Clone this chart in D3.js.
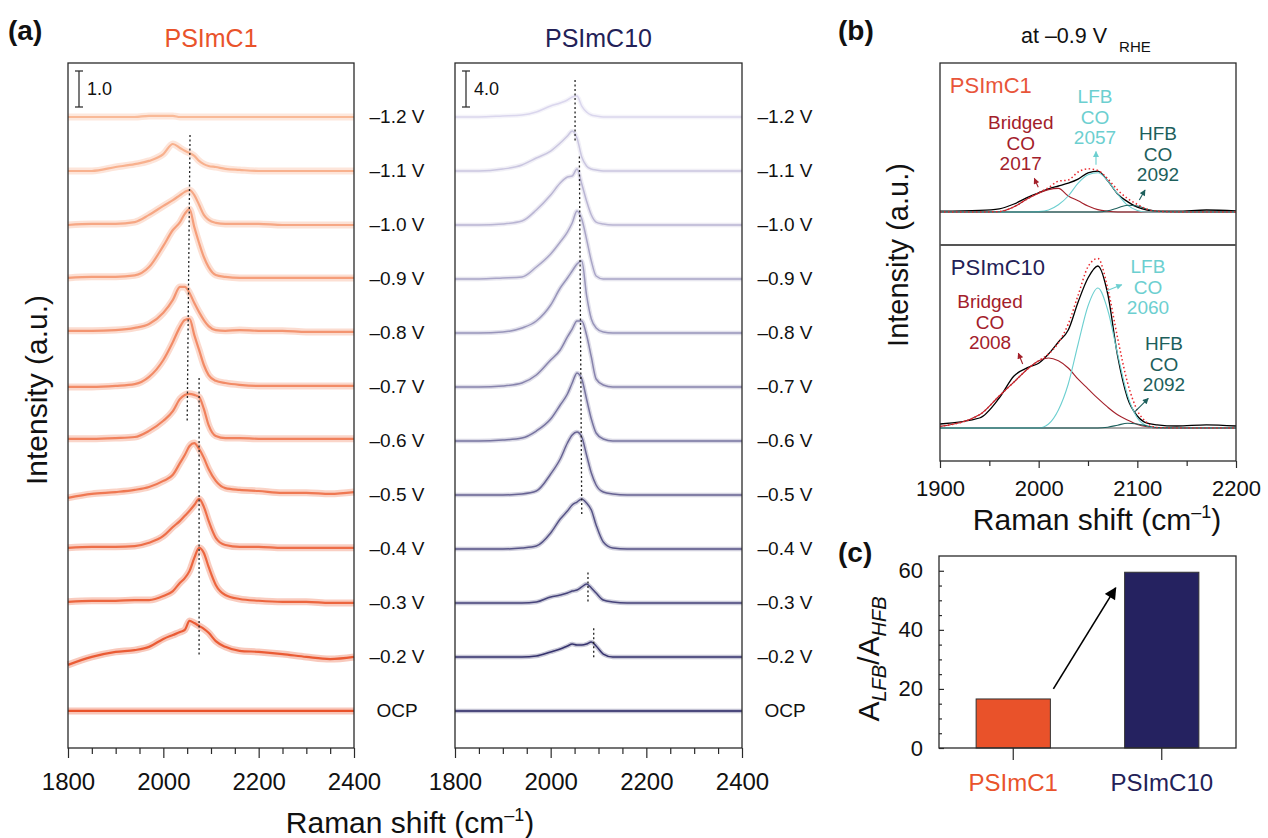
<!DOCTYPE html>
<html lang="en">
<head>
  <meta charset="UTF-8">
  <title>In situ Raman spectra</title>
  <style>
    body { margin: 0; background: #fff; }
    svg { font-family: 'Liberation Sans', Arial, Helvetica, sans-serif; }
    .frame { fill: none; stroke: #2a2a2a; stroke-width: 1.3; }
    .tick line { stroke: #2a2a2a; stroke-width: 1.2; }
  </style>
</head>
<body>
  <svg width="1268" height="838"></svg>
  <script src="https://cdn.jsdelivr.net/npm/d3@7/dist/d3.min.js"></script>
  <script>
    // ---------- data ----------
    var potentials = ['–1.2 V', '–1.1 V', '–1.0 V', '–0.9 V', '–0.8 V', '–0.7 V',
                      '–0.6 V', '–0.5 V', '–0.4 V', '–0.3 V', '–0.2 V', 'OCP']

    // Raman shift grid (cm-1) for the stacked spectra in (a)
    var waveA = [1800, 1850, 1900, 1940, 1970, 2000, 2020, 2035, 2045, 2055, 2065,
                 2075, 2085, 2095, 2110, 2130, 2160, 2200, 2250, 2300, 2350, 2400]

    // PSImC1, intensity above each trace's baseline (scale bar = 1.0)
    var c1Spectra = [
      [0, 0, 0, 0, 0.03, 0.03, 0.03, 0, 0, 0, 0, 0, 0, 0, 0, 0, 0, 0, 0, 0, 0, 0],
      [0, 0, 0.11, 0.19, 0.28, 0.47, 0.75, 0.64, 0.56, 0.5, 0.42, 0.28, 0.19, 0.14, 0.11, 0.06, 0.03, 0, 0, 0, 0, 0],
      [0, 0.03, 0.03, 0.08, 0.28, 0.53, 0.69, 0.83, 0.92, 0.97, 0.83, 0.56, 0.28, 0.14, 0.06, 0.03, 0.03, 0.03, 0, 0, 0, 0],
      [0.03, 0.06, 0.06, 0.1, 0.33, 0.92, 1.36, 1.58, 1.81, 1.94, 1.44, 1.0, 0.61, 0.33, 0.11, 0.06, 0.03, 0.03, 0.03, 0.03, 0.03, 0.03],
      [0.06, 0.06, 0.08, 0.14, 0.25, 0.56, 0.92, 1.28, 1.28, 1.11, 0.83, 0.58, 0.36, 0.19, 0.08, 0.06, 0.08, 0.06, 0.06, 0.03, 0.03, 0.03],
      [0, 0, 0.03, 0.08, 0.28, 0.75, 1.25, 1.67, 1.86, 1.89, 1.44, 1.03, 0.61, 0.33, 0.17, 0.11, 0.06, 0.03, 0.03, 0.03, 0.03, 0.03],
      [0.06, 0.06, 0.08, 0.11, 0.28, 0.56, 0.83, 1.17, 1.28, 1.31, 1.28, 1.22, 0.89, 0.44, 0.14, 0.08, 0.08, 0.06, 0.06, 0.06, 0.06, 0.06],
      [-0.08, 0.03, 0.08, 0.14, 0.22, 0.39, 0.56, 0.89, 1.11, 1.36, 1.44, 1.28, 1.03, 0.72, 0.39, 0.19, 0.14, 0.11, 0.06, 0.06, 0.03, 0.08],
      [0.03, 0.06, 0.06, 0.08, 0.17, 0.36, 0.61, 0.78, 0.92, 1.06, 1.22, 1.39, 1.17, 0.78, 0.31, 0.11, 0.06, 0.06, 0.03, 0.03, 0.03, 0.03],
      [0.03, 0.06, 0.06, 0.08, 0.08, 0.19, 0.33, 0.56, 0.69, 0.89, 1.25, 1.53, 1.39, 1.0, 0.5, 0.22, 0.11, 0.06, 0.03, 0.03, 0, 0],
      [-0.22, 0, 0.14, 0.19, 0.28, 0.5, 0.61, 0.69, 0.75, 1.0, 0.94, 0.86, 0.78, 0.67, 0.44, 0.28, 0.17, 0.14, 0.08, 0, -0.06, 0],
      [0, 0, 0, 0, 0, 0, 0, 0, 0, 0, 0, 0, 0, 0, 0, 0, 0, 0, 0, 0, 0, 0]
    ]

    // PSImC10, intensity above each trace's baseline (scale bar = 4.0)
    var c10Spectra = [
      [0, 0, 0.11, 0.22, 0.56, 1.22, 1.56, 1.89, 2.22, 2.33, 1.22, 0.56, 0.22, 0.11, 0, 0, 0, 0, 0, 0, 0, 0],
      [0, 0, 0.22, 0.67, 1.44, 2.22, 3.11, 3.89, 4.44, 3.67, 1.56, 0.56, 0.22, 0.11, 0, 0, 0, 0, 0, 0, 0, 0],
      [0, 0, 0.11, 0.44, 1.67, 3.33, 4.67, 5.33, 5.44, 6.22, 4.56, 2.67, 1.11, 0.33, 0.11, 0, 0, 0, 0, 0, 0, 0],
      [0, 0, 0.11, 0.22, 1.33, 2.78, 4.11, 5.22, 6.22, 7.56, 6.67, 4.44, 2.0, 0.33, 0, 0, 0, 0, 0, 0, 0, 0],
      [0, 0, 0.11, 0.56, 1.33, 3.11, 5.0, 6.11, 6.89, 7.67, 8.0, 4.22, 1.56, 0.56, 0.11, 0, 0, 0, 0, 0, 0, 0],
      [0, 0, 0.11, 0.44, 1.33, 3.0, 4.11, 5.56, 6.44, 7.33, 7.33, 5.78, 3.33, 0.89, 0.22, 0, 0, 0, 0, 0, 0, 0],
      [0, 0, 0.11, 0.33, 1.11, 2.44, 4.0, 5.22, 6.44, 7.56, 6.89, 4.67, 2.44, 0.89, 0.22, 0, 0, 0, 0, 0, 0, 0],
      [0, 0, 0, 0.11, 0.44, 2.33, 4.0, 5.78, 6.67, 7.0, 6.44, 4.44, 2.44, 1.11, 0.33, 0.11, 0, 0, 0, 0, 0, 0],
      [0, 0, 0, 0.11, 0.33, 1.78, 3.33, 4.22, 4.89, 5.22, 5.56, 5.11, 4.33, 2.67, 0.78, 0.11, 0, 0, 0, 0, 0, 0],
      [0, 0, 0, 0, 0.11, 0.67, 0.89, 1.11, 1.33, 1.44, 1.78, 2.11, 1.67, 1.11, 0.33, 0.11, 0, 0, 0, 0, 0, 0],
      [0, 0, 0, 0, 0.11, 0.56, 0.89, 1.22, 1.44, 1.33, 1.33, 1.44, 1.67, 1.22, 0.33, 0, 0, 0, 0, 0, 0, 0],
      [0, 0, 0, 0, 0, 0, 0, 0, 0, 0, 0, 0, 0, 0, 0, 0, 0, 0, 0, 0, 0, 0]
    ]

    // dotted peak guides: [start, end] in (cm-1, stacked intensity)
    var c1Guides = [
      { wn: [2056, 2050], y: [16.0, 8.0] },
      { wn: [2075, 2075], y: [9.25, 1.5] }
    ]
    var c10Guides = [
      { wn: [2051, 2051], y: [70.1, 63.4] },
      { wn: [2060, 2065], y: [61.6, 21.8] },
      { wn: [2078, 2078], y: [15.4, 12.1] },
      { wn: [2090, 2090], y: [9.2, 5.9] }
    ]

    // (b) fitted spectra at -0.9 V
    var waveB = [1900, 1940, 1960, 1975, 1990, 2000, 2010, 2020, 2030, 2040, 2050,
                 2060, 2070, 2080, 2090, 2100, 2110, 2120, 2140, 2170, 2200]
    var c1Measured = [0.02, 0.04, 0.08, 0.2, 0.38, 0.48, 0.58, 0.65, 0.72, 0.82, 0.98, 1.02, 0.78, 0.45, 0.26, 0.12, 0.05, 0.02, 0.02, 0.05, 0.03]
    var c1Bridged  = [0, 0, 0.01, 0.13, 0.35, 0.47, 0.56, 0.59, 0.4, 0.28, 0.15, 0.06, 0.02, 0, 0, 0, 0, 0, 0, 0, 0]
    var c1LFB      = [0, 0, 0, 0, 0, 0.01, 0.05, 0.18, 0.4, 0.72, 0.93, 0.98, 0.78, 0.45, 0.17, 0.04, 0, 0, 0, 0, 0]
    var c1HFB      = [0, 0, 0, 0, 0, 0, 0, 0, 0, 0, 0, 0, 0.03, 0.1, 0.17, 0.15, 0.07, 0.02, 0, 0, 0]
    var c10Measured = [0.1, 0.25, 0.75, 1.3, 1.52, 1.62, 1.85, 2.15, 2.45, 3.15, 3.75, 4.05, 3.35, 1.8, 0.75, 0.3, 0.12, 0.08, 0.05, 0.08, 0.05]
    var c10Bridged  = [0.04, 0.33, 0.8, 1.15, 1.5, 1.68, 1.75, 1.68, 1.5, 1.22, 0.98, 0.74, 0.52, 0.33, 0.2, 0.09, 0.03, 0, 0, 0, 0]
    var c10LFB      = [0, 0, 0, 0, 0, 0, 0.1, 0.45, 1.1, 2.1, 3.05, 3.5, 2.95, 1.85, 0.82, 0.25, 0.05, 0, 0, 0, 0]
    var c10HFB      = [0, 0, 0, 0, 0, 0, 0, 0, 0, 0, 0, 0, 0.02, 0.07, 0.12, 0.1, 0.05, 0.01, 0, 0, 0]

    // (c) area ratio
    var ratioSamples = ['PSImC1', 'PSImC10']
    var ratioValues = [16.6, 59.5]

    // ---------- drawing ----------
    var svg = d3.select('svg')
    var c1Color = '#e9522a'
    var c10Color = '#252260'
    var bridgedColor = '#a3202a'
    var lfbColor = '#6ccfd0'
    var hfbColor = '#1d5f5c'

    var defs = svg.append('defs')
    function arrowMarker(id, color, w, h) {
      defs.append('marker')
        .attr('id', id)
        .attr('viewBox', '0 0 10 10')
        .attr('refX', 9).attr('refY', 5)
        .attr('markerWidth', w).attr('markerHeight', h)
        .attr('markerUnits', 'userSpaceOnUse')
        .attr('orient', 'auto')
        .append('path')
        .attr('d', 'M0,0 L10,5 L0,10 z')
        .attr('fill', color)
    }
    arrowMarker('arrBig', '#000', 15, 12)
    arrowMarker('arrRed', bridgedColor, 7, 6)
    arrowMarker('arrCyan', lfbColor, 7, 6)
    arrowMarker('arrTeal', hfbColor, 7, 6)

    function styleAxis(g, size) {
      g.attr('font-family', null)
      g.select('.domain').remove()
      g.selectAll('text').attr('font-size', size).attr('fill', '#111')
    }

    function label(x, y, txt, size, opts) {
      opts = opts || {}
      return svg.append('text')
        .attr('x', x).attr('y', y)
        .attr('font-size', size)
        .attr('font-weight', opts.bold ? 'bold' : null)
        .attr('text-anchor', opts.anchor || 'start')
        .attr('fill', opts.color || '#111')
        .text(txt)
    }

    // ---- (a) stacked spectra ----
    var panelsA = [
      { name: 'PSImC1', left: 68, right: 354, spectra: c1Spectra, guides: c1Guides, step: 1.5,
        yMin: -1.03, yMax: 18, bar: 1.0, from: '#f9ba98', to: c1Color, title: '#e9532b',
        labelX: 397, core: 2.2, halo: 7, haloOpacity: 0.33 },
      { name: 'PSImC10', left: 455, right: 742, spectra: c10Spectra, guides: c10Guides, step: 6,
        yMin: -4.11, yMax: 72, bar: 4.0, from: '#dad6ed', to: c10Color, title: '#232157',
        labelX: 785, core: 1.5, halo: 4.5, haloOpacity: 0.28 }
    ]

    panelsA.forEach(function(p) {
      var x = d3.scaleLinear().domain([1800, 2400]).range([p.left, p.right])
      var y = d3.scaleLinear().domain([p.yMin, p.yMax]).range([748, 63])
      var color = d3.interpolateRgb(p.from, p.to)
      var g = svg.append('g')
      var n = potentials.length

      p.spectra.forEach(function(vals, i) {
        var off = (n - 1 - i) * p.step
        var line = d3.line()
          .x(function(d, k) { return x(waveA[k]) })
          .y(function(d) { return y(d + off) })
          .curve(d3.curveMonotoneX)
        var c = color(i / (n - 1))
        g.append('path').attr('d', line(vals))
          .attr('fill', 'none').attr('stroke', c)
          .attr('stroke-width', p.halo).attr('stroke-opacity', p.haloOpacity)
        g.append('path').attr('d', line(vals))
          .attr('fill', 'none').attr('stroke', c)
          .attr('stroke-width', p.core)

        label(p.labelX, y(off) + 6, potentials[i], 19, { anchor: 'middle' })
      })

      p.guides.forEach(function(d) {
        g.append('line')
          .attr('x1', x(d.wn[0])).attr('y1', y(d.y[0]))
          .attr('x2', x(d.wn[1])).attr('y2', y(d.y[1]))
          .attr('stroke', '#222').attr('stroke-width', 1.3)
          .attr('stroke-dasharray', '2,2.5')
      })

      // scale bar
      var bx = p.left + 11
      var by0 = y(p.yMax) + 8
      var by1 = by0 + (y(0) - y(p.bar))
      var sb = g.append('g').attr('stroke', '#333').attr('stroke-width', 1.3)
      sb.append('line').attr('x1', bx).attr('x2', bx).attr('y1', by0).attr('y2', by1)
      sb.append('line').attr('x1', bx - 4).attr('x2', bx + 4).attr('y1', by0).attr('y2', by0)
      sb.append('line').attr('x1', bx - 4).attr('x2', bx + 4).attr('y1', by1).attr('y2', by1)
      label(bx + 8, (by0 + by1) / 2 + 6, p.bar.toFixed(1), 18)

      svg.append('rect').attr('class', 'frame')
        .attr('x', p.left).attr('y', 63)
        .attr('width', p.right - p.left).attr('height', 685)

      var ax = svg.append('g').attr('transform', 'translate(0,748)')
        .call(d3.axisBottom(x).tickValues([1800, 2000, 2200, 2400]).tickSize(10).tickPadding(15).tickFormat(d3.format('d')))
      styleAxis(ax, 24)
      var axm = svg.append('g').attr('transform', 'translate(0,748)')
        .call(d3.axisBottom(x).tickValues(d3.range(1850, 2400, 50).filter(function(v) { return v % 200 !== 0 })).tickSize(6).tickFormat(''))
      styleAxis(axm, 24)

      label((p.left + p.right) / 2, 47, p.name, 25, { anchor: 'middle', color: p.title })
    })

    label(8, 40, '(a)', 28, { bold: true })
    svg.append('text')
      .attr('transform', 'translate(47,390) rotate(-90)')
      .attr('text-anchor', 'middle').attr('font-size', 30).attr('fill', '#111')
      .text('Intensity (a.u.)')

    function ramanLabel(x, y) {
      var t = svg.append('text').attr('x', x).attr('y', y)
        .attr('text-anchor', 'middle').attr('font-size', 30).attr('fill', '#111')
      t.append('tspan').text('Raman shift (cm')
      t.append('tspan').attr('font-size', 18).attr('dy', -12).text('–1')
      t.append('tspan').attr('dy', 12).text(')')
    }
    ramanLabel(410, 833)

    // ---- (b) fitted spectra ----
    var xb = d3.scaleLinear().domain([1900, 2200]).range([940, 1236])
    var subPanels = [
      { name: 'PSImC1', color: '#e8553a', y: d3.scaleLinear().domain([-0.825, 3.725]).range([245, 63]),
        measured: c1Measured, bridged: c1Bridged, lfb: c1LFB, hfb: c1HFB,
        notes: [
          { lines: ['Bridged', 'CO', '2017'], wn: 1981.8, v: 2.075, color: bridgedColor },
          { lines: ['LFB', 'CO', '2057'], wn: 2057.1, v: 2.725, color: lfbColor },
          { lines: ['HFB', 'CO', '2092'], wn: 2120.9, v: 1.8, color: hfbColor }
        ],
        arrows: [
          { from: [1999.6, 0.62], to: [1995.6, 0.84], m: 'arrRed', color: bridgedColor },
          { from: [2058.1, 1.18], to: [2058.1, 1.51], m: 'arrCyan', color: lfbColor },
          { from: [2102, 0.3], to: [2107.8, 0.55], m: 'arrTeal', color: hfbColor }
        ],
        nameAt: [1910, 2.975] },
      { name: 'PSImC10', color: '#232157', y: d3.scaleLinear().domain([-0.825, 4.575]).range([461, 245]),
        measured: c10Measured, bridged: c10Bridged, lfb: c10LFB, hfb: c10HFB,
        notes: [
          { lines: ['Bridged', 'CO', '2008'], wn: 1950.7, v: 3.0, color: bridgedColor },
          { lines: ['LFB', 'CO', '2060'], wn: 2110.8, v: 3.875, color: lfbColor },
          { lines: ['HFB', 'CO', '2092'], wn: 2127, v: 1.95, color: hfbColor }
        ],
        arrows: [
          { from: [1983.8, 1.6], to: [1979.4, 1.87], m: 'arrRed', color: bridgedColor },
          { from: [2069, 3.43], to: [2084.2, 3.58], m: 'arrCyan', color: lfbColor },
          { from: [2097.6, 0.41], to: [2111.1, 0.74], m: 'arrTeal', color: hfbColor }
        ],
        nameAt: [1911, 3.825] }
    ]

    subPanels.forEach(function(s) {
      var y = s.y
      var g = svg.append('g')
      var line = d3.line()
        .x(function(d, k) { return xb(waveB[k]) })
        .y(function(d) { return y(d) })
        .curve(d3.curveMonotoneX)
      var total = waveB.map(function(w, k) { return s.bridged[k] + s.lfb[k] + s.hfb[k] })

      g.append('line')
        .attr('x1', xb(1900)).attr('x2', xb(2200))
        .attr('y1', y(0)).attr('y2', y(0))
        .attr('stroke', '#555').attr('stroke-width', 1.2)
      g.append('path').attr('d', line(s.measured))
        .attr('fill', 'none').attr('stroke', '#000').attr('stroke-width', 1.3)
      g.append('path').attr('d', line(s.bridged))
        .attr('fill', 'none').attr('stroke', bridgedColor).attr('stroke-width', 1.1)
      g.append('path').attr('d', line(s.lfb))
        .attr('fill', 'none').attr('stroke', lfbColor).attr('stroke-width', 1.1)
      g.append('path').attr('d', line(s.hfb))
        .attr('fill', 'none').attr('stroke', hfbColor).attr('stroke-width', 1.1)
      g.append('path').attr('d', line(total))
        .attr('fill', 'none').attr('stroke', '#e8262b').attr('stroke-width', 1.5)
        .attr('stroke-dasharray', '1.5,2.5')

      s.notes.forEach(function(n) {
        n.lines.forEach(function(t, k) {
          label(xb(n.wn), y(n.v) + k * 20.5, t, 19, { anchor: 'middle', color: n.color })
        })
      })
      s.arrows.forEach(function(a) {
        g.append('line')
          .attr('x1', xb(a.from[0])).attr('y1', y(a.from[1]))
          .attr('x2', xb(a.to[0])).attr('y2', y(a.to[1]))
          .attr('stroke', a.color).attr('stroke-width', 1.1)
          .attr('marker-end', 'url(#' + a.m + ')')
      })
      label(xb(s.nameAt[0]), y(s.nameAt[1]), s.name, 22, { color: s.color })
    })

    svg.append('rect').attr('class', 'frame')
      .attr('x', 940).attr('y', 63).attr('width', 296).attr('height', 398)
    svg.append('line')
      .attr('x1', 940).attr('x2', 1236).attr('y1', 245).attr('y2', 245)
      .attr('stroke', '#555').attr('stroke-width', 2)

    var bx1 = svg.append('g').attr('transform', 'translate(0,461)')
      .call(d3.axisBottom(xb).tickValues([1900, 2000, 2100, 2200]).tickSize(7).tickPadding(12).tickFormat(d3.format('d')))
    styleAxis(bx1, 22)
    var bx2 = svg.append('g').attr('transform', 'translate(0,461)')
      .call(d3.axisBottom(xb).tickValues([1950, 2050, 2150]).tickSize(5).tickFormat(''))
    styleAxis(bx2, 22)

    label(838, 40, '(b)', 28, { bold: true })
    var ttl = svg.append('text').attr('x', 1021).attr('y', 43).attr('font-size', 21.5).attr('fill', '#111')
    ttl.append('tspan').text('at –0.9 V')
    ttl.append('tspan').attr('font-size', 15).attr('dx', 12).attr('dy', 9).text('RHE')
    svg.append('text')
      .attr('transform', 'translate(908,255) rotate(-90)')
      .attr('text-anchor', 'middle').attr('font-size', 29).attr('fill', '#111')
      .text('Intensity (a.u.)')
    ramanLabel(1097, 530)

    // ---- (c) bar chart ----
    var xc = d3.scaleBand().domain(ratioSamples).range([939, 1236]).paddingInner(0.5).paddingOuter(0.25)
    var yc = d3.scaleLinear().domain([0, 65]).range([748, 556])
    var barColors = [c1Color, c10Color]
    var labelColors = ['#e9532b', '#232157']

    svg.append('g').selectAll('rect')
      .data(ratioValues)
      .enter()
      .append('rect')
      .attr('x', function(d, i) { return xc(ratioSamples[i]) })
      .attr('y', function(d) { return yc(d) })
      .attr('width', xc.bandwidth())
      .attr('height', function(d) { return yc(0) - yc(d) })
      .attr('fill', function(d, i) { return barColors[i] })
      .attr('stroke', '#333').attr('stroke-width', 1)

    svg.append('rect').attr('class', 'frame')
      .attr('x', 939).attr('y', 556).attr('width', 297).attr('height', 192)

    var cy1 = svg.append('g').attr('transform', 'translate(939,0)')
      .call(d3.axisLeft(yc).tickValues([0, 20, 40, 60]).tickSizeInner(-5).tickSizeOuter(0).tickPadding(16))
    styleAxis(cy1, 22)
    var cy2 = svg.append('g').attr('transform', 'translate(939,0)')
      .call(d3.axisLeft(yc).tickValues(d3.range(5, 65, 5).filter(function(v) { return v % 20 !== 0 })).tickSizeInner(-3).tickSizeOuter(0).tickFormat(''))
    styleAxis(cy2, 22)

    var cx = svg.append('g').attr('transform', 'translate(0,748)')
      .call(d3.axisBottom(xc).tickSize(12).tickPadding(14))
    styleAxis(cx, 24)
    cx.selectAll('line').attr('stroke', '#555')
    cx.selectAll('text').attr('fill', function(d, i) { return labelColors[i] })

    svg.append('line')
      .attr('x1', xc(ratioSamples[0]) + xc.bandwidth() + 3).attr('y1', yc(20))
      .attr('x2', xc(ratioSamples[1]) - 9).attr('y2', yc(54.2))
      .attr('stroke', '#000').attr('stroke-width', 1.6)
      .attr('marker-end', 'url(#arrBig)')

    label(838, 562, '(c)', 28, { bold: true })

    var yl = svg.append('text')
      .attr('transform', 'translate(879,659) rotate(-90)')
      .attr('text-anchor', 'middle').attr('font-size', 30).attr('fill', '#111')
    yl.append('tspan').text('A')
    yl.append('tspan').attr('font-size', 20).attr('font-style', 'italic').attr('dy', 7).text('LFB')
    yl.append('tspan').attr('dy', -7).text('/A')
    yl.append('tspan').attr('font-size', 20).attr('font-style', 'italic').attr('dy', 7).text('HFB')
  </script>
</body>
</html>
